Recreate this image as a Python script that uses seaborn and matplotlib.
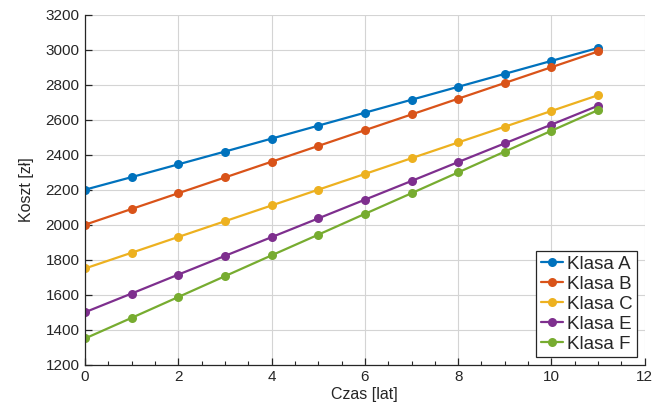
import numpy as np
import pandas as pd
import matplotlib
matplotlib.use("Agg")
import matplotlib.pyplot as plt
import seaborn as sns
from matplotlib.ticker import MultipleLocator

# Koszt w kolejnych latach dla każdej klasy
lata = list(range(12))
klasa_a = [2200, 2272, 2345, 2418, 2492, 2566, 2640, 2714, 2788, 2862, 2936, 3010]
klasa_b = [2000, 2090, 2180, 2270, 2360, 2450, 2540, 2630, 2720, 2810, 2900, 2990]
klasa_c = [1750, 1840, 1930, 2020, 2110, 2200, 2290, 2380, 2470, 2560, 2650, 2740]
klasa_e = [1500, 1607, 1715, 1822, 1929, 2036, 2143, 2250, 2358, 2465, 2572, 2680]
klasa_f = [1350, 1468, 1587, 1706, 1825, 1943, 2062, 2180, 2299, 2418, 2537, 2655]
nazwy = ["Klasa A", "Klasa B", "Klasa C", "Klasa E", "Klasa F"]
kolory = ["#0072BD", "#D95319", "#EDB120", "#7E2F8E", "#77AC30"]

df = pd.concat([
    pd.DataFrame({"Czas": lata, "Koszt": v, "Klasa": n})
    for n, v in zip(nazwy, [klasa_a, klasa_b, klasa_c, klasa_e, klasa_f])
])

sns.set_theme(style="white")
plt.rcParams["font.family"] = ["Liberation Sans", "DejaVu Sans"]

fig = plt.figure(figsize=(6.64, 4.08), dpi=100)
ax = fig.add_axes([0.128, 0.106, 0.843, 0.858])

sns.lineplot(data=df, x="Czas", y="Koszt", hue="Klasa", palette=kolory,
             marker="o", markersize=6.5, markeredgewidth=0, linewidth=1.6,
             ax=ax, legend=True)

ax.set_xlim(0, 12)
ax.set_ylim(1200, 3200)
ax.xaxis.set_major_locator(MultipleLocator(2))
ax.xaxis.set_minor_locator(MultipleLocator(0.5))
ax.yaxis.set_major_locator(MultipleLocator(200))

ax.grid(True, which="major", color="#d4d4d4", linewidth=0.8)
ax.set_axisbelow(True)
for s in ["top", "right"]:
    ax.spines[s].set_visible(False)
for s in ["left", "bottom"]:
    ax.spines[s].set_color("#262626")
    ax.spines[s].set_linewidth(0.9)

ax.tick_params(axis="both", which="major", direction="in", length=5, width=0.9,
               color="#262626", labelcolor="#262626", labelsize=11, pad=4,
               bottom=True, left=True)
ax.tick_params(axis="x", which="minor", direction="in", length=3, width=0.8,
               color="#262626", bottom=True)

ax.set_xlabel("Czas [lat]", fontsize=11.5, color="#262626", labelpad=2)
ax.set_ylabel("Koszt [zł]", fontsize=11.5, color="#262626", labelpad=8)

leg = ax.legend(loc="lower right", fontsize=13.5, frameon=True, fancybox=False,
                handlelength=1.2, handletextpad=0.2, borderpad=0.25,
                labelspacing=0.15, borderaxespad=0.4, title=None)
leg.get_frame().set_edgecolor("#262626")
leg.get_frame().set_linewidth(0.9)
leg.get_frame().set_alpha(1)

fig.savefig("out.png", dpi=100)
